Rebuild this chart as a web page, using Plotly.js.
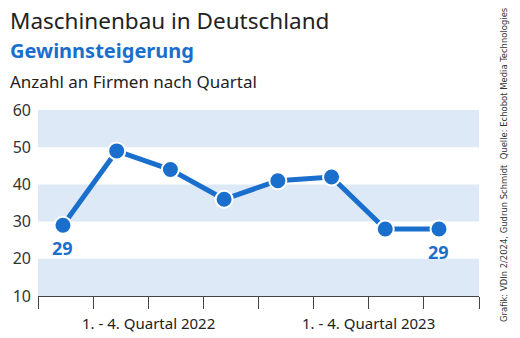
<!DOCTYPE html>
<html><head><meta charset="utf-8">
<script src="https://cdn.plot.ly/plotly-3.0.1.min.js"></script>
<style>html,body{margin:0;padding:0;background:#fff}#c{width:520px;height:338px}</style>
</head><body><div id="c"></div>
<script>
const quarters = [1, 2, 3, 4, 5, 6, 7, 8];
const firms = [29, 49, 44, 36, 41, 42, 28, 28];
const endLabels = ["29", "", "", "", "", "", "", "29"];
const yearLabels = ["1. - 4. Quartal 2022", "1. - 4. Quartal 2023"];
const yTicks = [10, 20, 30, 40, 50, 60];
const bands = [[10, 20], [30, 40], [50, 60]];

const blue = '#1a6fcc';
const FONT = 'Noto Sans, sans-serif';
const x0 = 0.535, x1 = 8.745;
const step = (x1 - x0) / 8;
const allTicks = [];
for (let k = 0; k <= 8; k++) allTicks.push(x0 + k * step);

const shapes = bands.map(b => ({type:'rect', xref:'paper', yref:'y', x0:0, x1:1, y0:b[0], y1:b[1],
  fillcolor:'#dde9f7', line:{width:0}, layer:'below'}));

const L = -30/441;
const annotations = [
  {text:'Maschinenbau in Deutschland', xref:'paper', yref:'paper', x:L, y:1+90/186, xanchor:'left', yanchor:'middle', showarrow:false, font:{family:FONT, size:22.5, color:'#222'}},
  {text:'<b>Gewinnsteigerung</b>', xref:'paper', yref:'paper', x:L, y:1+60/186, xanchor:'left', yanchor:'middle', showarrow:false, font:{family:FONT, size:20, color:blue}},
  {text:'Anzahl an Firmen nach Quartal', xref:'paper', yref:'paper', x:L, y:1+28/186, xanchor:'left', yanchor:'middle', showarrow:false, font:{family:FONT, size:17, color:'#222'}},
  {text:'Grafik: VDIn 2/2024, Gudrun Schmidt  Quelle: Echobot Media Technologies', xref:'paper', yref:'paper', x:(503-38)/441, y:(296-165)/186, xanchor:'center', yanchor:'middle', textangle:-90, showarrow:false, font:{family:'DejaVu Sans Condensed, sans-serif', size:9.4, color:'#333'}},
];
yearLabels.forEach((t, i) => annotations.push({text:t, xref:'x', yref:'paper', x:(allTicks[i*4] + allTicks[i*4+4]) / 2, y:-27/186, xanchor:'center', yanchor:'middle', showarrow:false, font:{family:FONT, size:15, color:'#222'}}));
quarters.forEach((q, i) => { if (endLabels[i]) annotations.push({text:'<b>' + endLabels[i] + '</b>', x:q, y:firms[i], xref:'x', yref:'y', yshift:-23, showarrow:false, font:{family:FONT, size:18, color:blue}}); });

Plotly.newPlot('c', [{
  x: quarters, y: firms, type:'scatter', mode:'lines+markers',
  line:{color:blue, width:5},
  marker:{color:blue, size:17, line:{color:'#fff', width:2}},
  cliponaxis:false, hoverinfo:'none'
}], {
  width:520, height:338, margin:{l:38, r:41, t:110, b:42},
  paper_bgcolor:'#fff', plot_bgcolor:'#fff', showlegend:false,
  xaxis:{range:[x0, x1], showgrid:false, zeroline:false, showline:true, linecolor:'#444', linewidth:1,
    tickmode:'array', tickvals:[allTicks[4], allTicks[8]], ticktext:['',''], ticks:'outside', ticklen:26, tickcolor:'#444', tickwidth:1,
    minor:{tickmode:'array', tickvals:allTicks, ticks:'outside', ticklen:12, tickcolor:'#444', tickwidth:1, showgrid:false}},
  yaxis:{range:[10, 60], tickvals:yTicks, showgrid:false, zeroline:false, showline:false, ticks:'', ticklabelstandoff:6,
    tickfont:{family:FONT, size:16, color:'#333'}},
  shapes: shapes, annotations: annotations
}, {staticPlot:true});
</script></body></html>
